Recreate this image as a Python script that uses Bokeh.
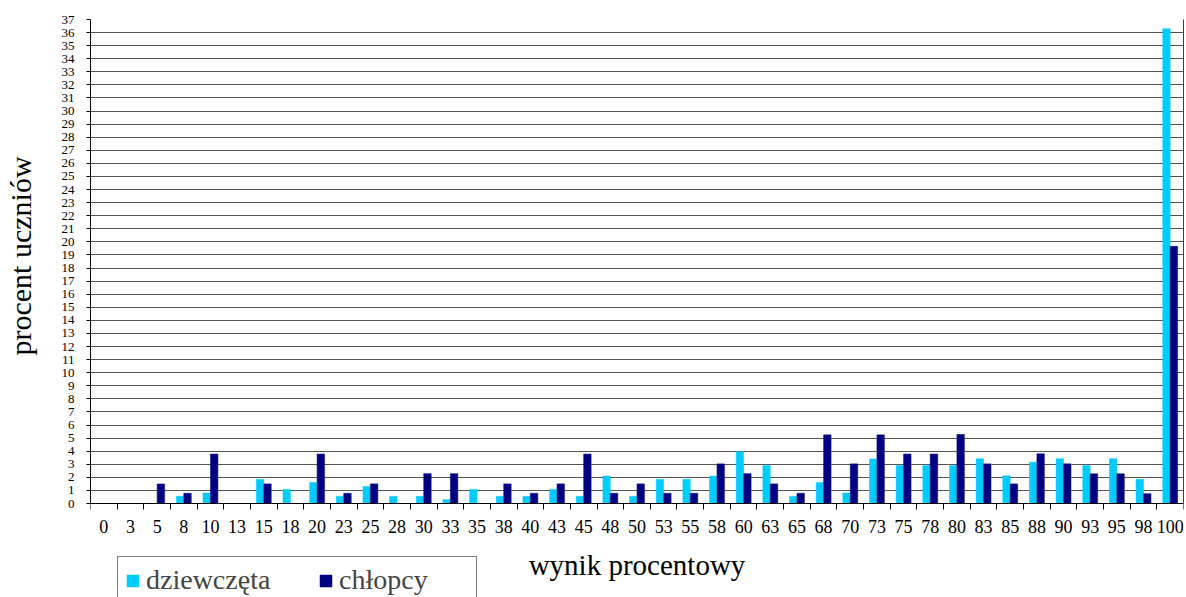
from bokeh.plotting import figure
from bokeh.models import FixedTicker, Legend, LegendItem, Range1d, ColumnDataSource, LinearAxis
from bokeh.embed import file_html
from bokeh.resources import INLINE

categories = [0, 3, 5, 8, 10, 13, 15, 18, 20, 23, 25, 28, 30, 33, 35, 38, 40, 43, 45, 48,
              50, 53, 55, 58, 60, 63, 65, 68, 70, 73, 75, 78, 80, 83, 85, 88, 90, 93, 95, 98, 100]
dziewczeta = [0, 0, 0, 0.55, 0.8, 0, 1.85, 1.08, 1.6, 0.55, 1.3, 0.55, 0.55, 0.3, 1.08, 0.55,
              0.55, 1.08, 0.55, 2.1, 0.55, 1.85, 1.85, 2.1, 3.95, 2.9, 0.55, 1.6, 0.8, 3.4,
              2.9, 2.9, 2.9, 3.42, 2.12, 3.16, 3.42, 2.9, 3.42, 1.85, 36.3]
chlopcy = [0, 0, 1.5, 0.78, 3.78, 0, 1.5, 0, 3.78, 0.78, 1.5, 0, 2.28, 2.28, 0, 1.5,
           0.78, 1.5, 3.78, 0.78, 1.5, 0.78, 0.78, 3.03, 2.28, 1.5, 0.78, 5.25, 3.03, 5.25,
           3.78, 3.78, 5.28, 3.03, 1.5, 3.8, 3.03, 2.27, 2.27, 0.75, 19.66]
y_ticks = list(range(0, 38))
Y_MAX = 37

FONT = "Liberation Serif"
GIRLS = "#00CCFF"
BOYS = "#000080"
GRID = "#555555"

W, H = 1186, 597
LEFT, RIGHT, TOP = 87, 3, 19
AXIS_Y_PX = 503  # pixel row of the value 0
px_per_unit = (AXIS_Y_PX - TOP) / Y_MAX
y_low = -(H - AXIS_Y_PX) / px_per_unit

idx = list(range(len(categories)))
bw = 0.28
src = ColumnDataSource(dict(
    xg=[i - bw / 2 for i in idx],
    xb=[i + bw / 2 for i in idx],
    g=dziewczeta,
    b=chlopcy,
))

p = figure(width=W, height=H, output_backend="svg", toolbar_location=None,
           x_range=Range1d(-0.5, len(categories) - 0.5), y_range=Range1d(y_low, Y_MAX),
           min_border_left=LEFT, min_border_right=RIGHT, min_border_top=TOP, min_border_bottom=0)

rg = p.vbar(x="xg", top="g", bottom=0, width=bw, source=src, fill_color=GIRLS, line_color=GIRLS, line_width=0.5)
rb = p.vbar(x="xb", top="b", bottom=0, width=bw, source=src, fill_color=BOYS, line_color=BOYS, line_width=0.5)

p.outline_line_color = None
p.background_fill_color = "white"
p.border_fill_color = "white"

# x axis, pinned at value 0
xa = p.xaxis[0]
xa.fixed_location = 0
xa.ticker = FixedTicker(ticks=idx, minor_ticks=[i - 0.5 for i in range(len(categories) + 1)])
xa.major_label_overrides = {i: str(c) for i, c in zip(idx, categories)}
xa.major_tick_out = 0
xa.major_tick_in = 0
xa.minor_tick_out = 6
xa.minor_tick_in = 0
xa.minor_tick_line_color = "black"
xa.axis_line_color = "black"
xa.major_label_text_font = FONT
xa.major_label_text_font_size = "18px"
xa.major_label_text_color = "black"
xa.major_label_standoff = 10
xa.axis_label = "wynik procentowy"
xa.axis_label_text_font = FONT
xa.axis_label_text_font_size = "29px"
xa.axis_label_text_font_style = "normal"
xa.axis_label_text_color = "black"
xa.axis_label_standoff = 13
p.xgrid.grid_line_color = None

# y axis
ya = p.yaxis[0]
ya.bounds = (0, Y_MAX)
ya.ticker = FixedTicker(ticks=y_ticks)
ya.major_tick_out = 4
ya.major_tick_in = 0
ya.minor_tick_line_color = None
ya.axis_line_color = "black"
ya.major_label_text_font = FONT
ya.major_label_text_font_size = "13px"
ya.major_label_text_color = "black"
ya.major_label_standoff = 12
# leading no-break spaces lift the title so it sits beside the 0..37 part of the axis
ya.axis_label = "\u00a0" * 14 + "procent uczniów"
ya.axis_label_text_font = FONT
ya.axis_label_text_font_size = "30px"
ya.axis_label_text_font_style = "normal"
ya.axis_label_text_color = "black"
ya.axis_label_standoff = 22
p.ygrid.grid_line_color = GRID
p.ygrid.grid_line_width = 1

# right border of the plot area
ra = LinearAxis(bounds=(0, Y_MAX), ticker=FixedTicker(ticks=[]), axis_line_color="#404040",
                major_tick_line_color=None, minor_tick_line_color=None,
                major_label_text_font_size="0px")
p.add_layout(ra, "right")

legend = Legend(items=[LegendItem(label="dziewczęta", renderers=[rg]),
                       LegendItem(label="chłopcy", renderers=[rb])],
                orientation="horizontal", location=(27, -7),
                label_text_font=FONT, label_text_font_size="28px",
                glyph_width=15, glyph_height=15, label_standoff=6, spacing=42,
                padding=7, border_line_color="black", border_line_width=1.5,
                background_fill_alpha=1, label_width=130)
p.add_layout(legend, "center")

open("out.html", "w").write(file_html(p, INLINE))
